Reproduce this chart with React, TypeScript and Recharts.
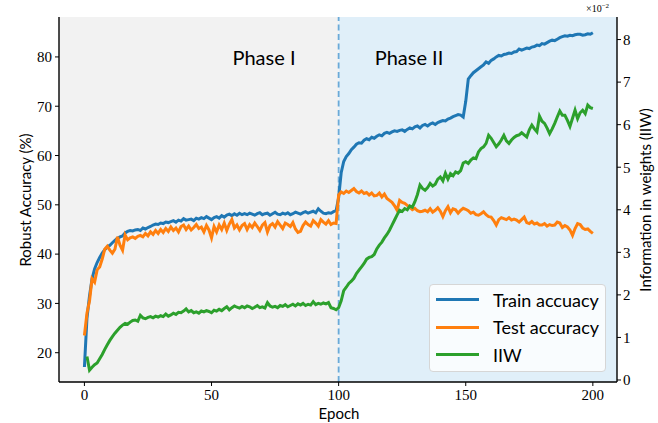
import React from "react";
import {
  ComposedChart,
  Line,
  XAxis,
  YAxis,
  ReferenceArea,
  ReferenceLine,
  Legend,
} from "recharts";

const trainAcc: number[] = [
  17.1, 27.0, 31.5, 35.0, 37.0, 38.3, 39.3, 40.2, 40.9, 41.4,
  41.8, 42.3, 42.8, 43.2, 43.5, 43.7, 44.3, 44.6, 44.8, 44.7,
  44.9, 45.0, 44.8, 45.3, 45.1, 45.4, 45.6, 45.9, 46.1, 46.0,
  46.3, 46.2, 46.5, 46.4, 46.6, 46.8, 46.5, 46.9, 46.7, 47.2,
  46.9, 47.0, 47.1, 46.8, 47.3, 47.1, 47.4, 47.2, 47.6, 47.3,
  47.0, 47.4, 47.6, 47.3, 47.8, 47.5, 47.9, 48.1, 47.8, 48.2,
  47.9, 48.3, 48.0, 48.2, 48.0, 48.3, 48.1, 47.9, 48.2, 48.4,
  48.0, 48.2, 48.3, 47.9, 48.2, 48.5, 48.1, 48.0, 48.3, 48.1,
  48.4, 48.0, 48.2, 48.5, 48.3, 48.1, 48.4, 48.6, 48.3, 48.5,
  48.7, 48.4, 49.2, 48.7, 48.3, 48.2, 48.4, 48.3, 48.6, 48.8,
  51.5, 56.5, 58.8, 59.8, 60.4, 61.2, 61.7, 62.3, 62.6, 62.5,
  63.1, 63.4, 63.2, 63.7, 63.5, 63.9, 64.2, 64.0, 64.5, 64.7,
  64.5, 64.8, 65.0, 64.9, 65.1, 65.2, 64.9, 65.3, 65.6, 65.4,
  65.8, 66.0, 65.6, 66.1, 66.3, 66.0, 66.4, 66.6, 66.3, 66.7,
  66.9, 67.1, 67.0, 67.4, 67.6, 67.9, 68.1, 68.3, 68.2, 67.8,
  71.0, 75.5, 76.2, 76.8, 77.2, 77.6, 78.0, 78.4, 79.0, 78.7,
  79.3, 79.6, 80.0, 80.3, 80.2, 80.5, 80.6, 80.8, 80.7, 81.0,
  81.1, 81.6, 81.4, 81.6, 81.8, 81.7, 82.0, 82.1, 82.4, 82.3,
  82.7, 82.6, 82.9, 83.2, 83.4, 83.3, 83.6, 83.9, 84.1, 84.3,
  84.2, 84.4, 84.3, 84.5, 84.6, 84.6, 84.4, 84.5, 84.7, 84.6,
  84.9,
];

const testAcc: number[] = [
  23.5, 28.0, 30.5, 35.0, 34.3, 36.8, 37.4, 39.0, 41.0, 41.6,
  40.8, 40.2, 41.0, 43.5, 41.8, 40.8, 43.9, 42.9, 43.3, 43.5,
  43.2, 43.6, 43.8, 43.5, 44.2, 43.7, 44.5, 44.0, 44.8, 44.2,
  45.0, 44.4, 45.2, 44.6, 45.5, 44.8, 45.3, 44.5, 45.6, 45.9,
  45.0, 45.7, 44.9, 45.4, 46.0, 45.2, 45.5, 44.5, 45.8, 44.9,
  43.3, 45.6, 44.5, 45.9, 45.0, 46.3, 44.8, 46.1, 47.0, 45.3,
  45.9, 44.9, 45.8, 46.2, 45.0, 46.0, 45.4, 46.3, 45.6, 44.8,
  45.9, 46.4, 44.5, 45.8, 46.2, 45.5, 46.6, 45.9, 45.2, 46.3,
  46.0, 45.6, 46.4, 45.1, 44.4, 44.6, 45.8, 46.5, 46.0, 45.7,
  46.8, 46.3, 45.7, 47.0, 46.5, 46.1, 46.8, 46.0, 46.3, 46.2,
  52.0, 52.6, 52.3, 52.8, 52.5, 52.9, 53.3, 52.7, 52.4, 52.8,
  52.3, 52.5, 52.0, 52.4, 51.8, 51.9, 52.4, 51.6, 52.2, 51.3,
  50.9, 50.5, 49.8, 48.9, 50.9, 50.5, 50.3, 49.9, 49.5, 49.0,
  49.3, 48.8, 48.6, 48.7, 48.9, 48.6, 49.2, 48.5, 48.9, 49.4,
  48.7, 47.6, 48.8, 49.6, 48.4, 49.2, 49.0, 48.3, 48.9, 49.3,
  49.1, 48.8, 48.3, 48.5, 48.0, 47.9, 48.2, 48.6, 48.0, 47.6,
  47.5, 46.8, 45.9, 47.0, 47.4, 47.2, 47.0, 47.4, 46.9, 47.1,
  46.9, 46.5, 47.0, 47.5, 46.4, 46.2, 46.6, 46.1, 46.3, 45.9,
  45.9, 46.2, 45.7, 46.0, 45.8, 45.9, 46.5, 46.3, 45.4, 45.8,
  45.5, 44.9, 43.8, 45.2, 46.2, 46.0, 45.3, 45.0, 45.1, 44.6,
  44.2,
];

const iiw: (number | null)[] = [
  null, 0.55, 0.23, 0.30, 0.36, 0.40, 0.50, 0.60, 0.72, 0.83,
  0.93, 1.02, 1.10, 1.17, 1.24, 1.29, 1.33, 1.31, 1.36, 1.40,
  1.41, 1.38, 1.52, 1.46, 1.44, 1.47, 1.49, 1.46, 1.50, 1.48,
  1.51, 1.49, 1.55, 1.50, 1.53, 1.57, 1.54, 1.59, 1.58, 1.62,
  1.67, 1.60, 1.63, 1.58, 1.60, 1.57, 1.62, 1.60, 1.63, 1.61,
  1.58, 1.64, 1.62, 1.66, 1.63, 1.68, 1.72, 1.65, 1.70, 1.74,
  1.71, 1.69, 1.73, 1.70, 1.74, 1.72, 1.68, 1.71, 1.75, 1.70,
  1.72, 1.69, 1.82, 1.74, 1.71, 1.73, 1.70, 1.75, 1.73, 1.77,
  1.72, 1.75, 1.78, 1.74, 1.79, 1.76, 1.80, 1.75, 1.78, 1.76,
  1.84, 1.77, 1.80, 1.78, 1.81, 1.79, 1.82, 1.70, 1.68, 1.65,
  1.70, 1.86, 2.10, 2.18, 2.27, 2.32, 2.39, 2.50, 2.58, 2.66,
  2.74, 2.84, 2.88, 2.90, 2.95, 3.08, 3.17, 3.24, 3.34, 3.42,
  3.52, 3.64, 3.76, 3.88, 3.99, 3.96, 4.03, 4.00, 4.09, 4.06,
  4.19, 4.36, 4.58, 4.50, 4.46, 4.52, 4.62, 4.56, 4.60, 4.72,
  4.77, 4.68, 4.86, 4.72, 4.85, 4.80, 4.89, 4.86, 4.92, 5.10,
  5.13, 5.09, 5.17, 5.22, 5.20, 5.36, 5.44, 5.48, 5.56, 5.75,
  5.68, 5.58, 5.48, 5.55, 5.64, 5.75, 5.62, 5.56, 5.64, 5.70,
  5.74, 5.76, 5.81, 5.76, 5.71, 5.88, 5.99, 5.90, 5.83, 6.20,
  6.08, 6.03, 5.92, 5.79, 5.90, 6.03, 6.18, 6.32, 6.22, 6.22,
  6.10, 5.96, 6.15, 6.34, 6.14, 6.28, 6.34, 6.26, 6.46, 6.40,
  6.38,
];

const epochs: number[] = trainAcc.map((_, i) => i);
const xTicks = [0, 50, 100, 150, 200];
const leftTicks = [20, 30, 40, 50, 60, 70, 80];
const rightTicks = [0, 1, 2, 3, 4, 5, 6, 7, 8];

const data = epochs.map((e, i) => ({
  epoch: e,
  train: trainAcc[i],
  test: testAcc[i],
  iiw: iiw[i],
}));

const BLUE = "#1f77b4";
const ORANGE = "#ff7f0e";
const GREEN = "#2ca02c";

const serif = "'Liberation Serif', 'DejaVu Serif', serif";
const sans = "Lato, 'DejaVu Sans', sans-serif";

const legendItems = [
  { label: "Train accuacy", color: BLUE },
  { label: "Test accuracy", color: ORANGE },
  { label: "IIW", color: GREEN },
];

function LegendBox() {
  return (
    <div
      style={{
        position: "absolute",
        left: 429,
        top: 284,
        width: 177,
        height: 88,
        boxSizing: "border-box",
        border: "1px solid #d6d6d6",
        borderRadius: 4,
        background: "rgba(255,255,255,0.8)",
      }}
    >
      {legendItems.map((it, i) => (
        <div
          key={it.label}
          style={{
            position: "absolute",
            left: 6,
            top: 1 + i * 27.5,
            height: 27,
            display: "flex",
            alignItems: "center",
          }}
        >
          <div style={{ width: 43, height: 3, background: it.color }} />
          <span
            style={{
              marginLeft: 14,
              fontFamily: sans,
              fontSize: 18,
              color: "#000",
              whiteSpace: "nowrap",
            }}
          >
            {it.label}
          </span>
        </div>
      ))}
    </div>
  );
}

export default function App() {
  const tickStyle = { fontFamily: serif, fontSize: 15, fill: "#000" };
  return (
    <div style={{ position: "absolute", left: 0, top: 0, width: 658, height: 423, background: "#fff" }}>
      <ComposedChart
        width={658}
        height={423}
        data={data}
        margin={{ top: 17, right: 0, bottom: 0, left: 0 }}
      >
        <XAxis
          xAxisId="top"
          orientation="top"
          dataKey="epoch"
          type="number"
          domain={[-10, 209.5]}
          height={0}
          tick={false}
          tickLine={false}
          axisLine={{ stroke: "#000", strokeWidth: 1.4 }}
        />
        <XAxis
          dataKey="epoch"
          type="number"
          domain={[-10, 209.5]}
          ticks={xTicks}
          height={41}
          tickSize={4}
          tickMargin={3}
          tick={tickStyle}
          tickLine={{ stroke: "#000", strokeWidth: 1 }}
          axisLine={{ stroke: "#000", strokeWidth: 1.4 }}
          allowDataOverflow
        />
        <YAxis
          yAxisId="left"
          domain={[14.06, 88.1]}
          ticks={leftTicks}
          width={59}
          tickSize={4}
          tickMargin={3}
          tick={tickStyle}
          tickLine={{ stroke: "#000", strokeWidth: 1 }}
          axisLine={{ stroke: "#000", strokeWidth: 1.4 }}
          allowDataOverflow
        />
        <YAxis
          yAxisId="right"
          orientation="right"
          domain={[-0.047, 8.53]}
          ticks={rightTicks}
          width={41}
          tickSize={4}
          tickMargin={2}
          tick={tickStyle}
          tickLine={{ stroke: "#000", strokeWidth: 1 }}
          axisLine={{ stroke: "#000", strokeWidth: 1.4 }}
          allowDataOverflow
        />
        <ReferenceArea
          yAxisId="left"
          x1={-10}
          x2={100}
          fill="#f2f2f2"
          fillOpacity={1}
          stroke="none"
          ifOverflow="extendDomain"
        />
        <ReferenceArea
          yAxisId="left"
          x1={100}
          x2={209.5}
          fill="#e0eff9"
          fillOpacity={1}
          stroke="none"
          ifOverflow="extendDomain"
        />
        <ReferenceLine
          yAxisId="left"
          x={100}
          stroke="#6aaad8"
          strokeWidth={1.8}
          strokeDasharray="6 3.5"
        />
        <Line
          yAxisId="left"
          dataKey="train"
          stroke={BLUE}
          strokeWidth={3}
          dot={false}
          type="linear"
          isAnimationActive={false}
          name="Train accuacy"
        />
        <Line
          yAxisId="left"
          dataKey="test"
          stroke={ORANGE}
          strokeWidth={3}
          dot={false}
          type="linear"
          isAnimationActive={false}
          name="Test accuracy"
        />
        <Line
          yAxisId="right"
          dataKey="iiw"
          stroke={GREEN}
          strokeWidth={3}
          dot={false}
          type="linear"
          isAnimationActive={false}
          name="IIW"
        />
        <Legend content={() => null} />
      </ComposedChart>
      <LegendBox />
      <div
        style={{
          position: "absolute",
          left: 264,
          top: 57,
          transform: "translate(-50%,-50%)",
          fontFamily: sans,
          fontSize: 20,
          color: "#000",
          whiteSpace: "nowrap",
        }}
      >
        Phase I
      </div>
      <div
        style={{
          position: "absolute",
          left: 409,
          top: 57,
          transform: "translate(-50%,-50%)",
          fontFamily: sans,
          fontSize: 20,
          color: "#000",
          whiteSpace: "nowrap",
        }}
      >
        Phase II
      </div>
      <div
        style={{
          position: "absolute",
          left: 586,
          top: 2,
          fontFamily: serif,
          fontSize: 10,
          color: "#000",
          whiteSpace: "nowrap",
        }}
      >
        ×10<sup style={{ fontSize: 7, verticalAlign: "4px" }}>−2</sup>
      </div>
      <div
        style={{
          position: "absolute",
          left: 339,
          top: 413,
          transform: "translate(-50%,-50%)",
          fontFamily: sans,
          fontSize: 15,
          color: "#000",
          whiteSpace: "nowrap",
        }}
      >
        Epoch
      </div>
      <div
        style={{
          position: "absolute",
          left: 25,
          top: 200,
          transform: "translate(-50%,-50%) rotate(-90deg)",
          fontFamily: sans,
          fontSize: 15,
          color: "#000",
          whiteSpace: "nowrap",
        }}
      >
        Robust Accuracy (%)
      </div>
      <div
        style={{
          position: "absolute",
          left: 645,
          top: 200,
          transform: "translate(-50%,-50%) rotate(-90deg)",
          fontFamily: sans,
          fontSize: 15,
          color: "#000",
          whiteSpace: "nowrap",
        }}
      >
        Information in weights (IIW)
      </div>
    </div>
  );
}
